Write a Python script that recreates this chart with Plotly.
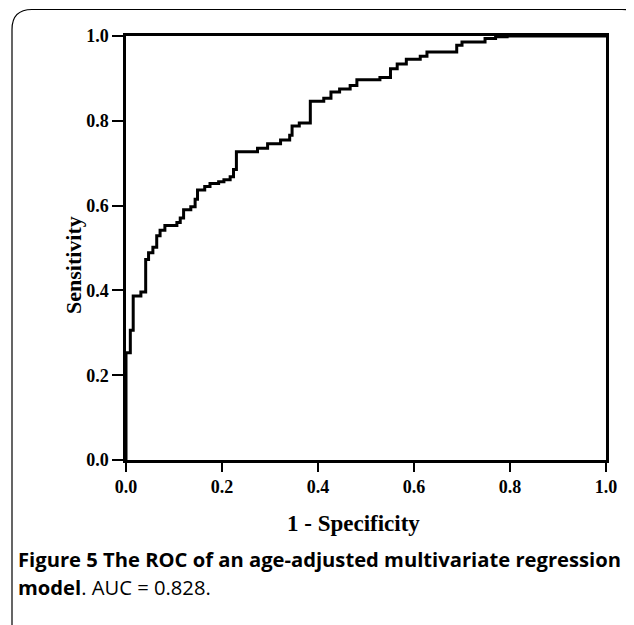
import plotly.graph_objects as go

# ROC curve vertices (1 - specificity, sensitivity)
fpr = [0.0, 0.0, 0.009, 0.015, 0.031, 0.041, 0.047, 0.056, 0.064, 0.071, 0.081,
       0.106, 0.113, 0.120, 0.135, 0.144, 0.149, 0.164, 0.175, 0.193, 0.204,
       0.217, 0.224, 0.230, 0.274, 0.295, 0.322, 0.341, 0.346, 0.361, 0.384,
       0.412, 0.427, 0.445, 0.467, 0.481, 0.529, 0.551, 0.565, 0.584, 0.613,
       0.627, 0.689, 0.700, 0.748, 0.770, 0.794, 1.0]
tpr = [0.0, 0.253, 0.306, 0.387, 0.396, 0.473, 0.489, 0.502, 0.529, 0.542, 0.553,
       0.560, 0.571, 0.590, 0.597, 0.615, 0.637, 0.645, 0.652, 0.656, 0.661,
       0.668, 0.685, 0.727, 0.735, 0.746, 0.755, 0.766, 0.788, 0.795, 0.846,
       0.853, 0.868, 0.875, 0.883, 0.897, 0.902, 0.923, 0.934, 0.945, 0.952,
       0.962, 0.978, 0.986, 0.994, 0.998, 1.0, 1.0]

tick_vals = [0.0, 0.2, 0.4, 0.6, 0.8, 1.0]
tick_text = ["0.0", "0.2", "0.4", "0.6", "0.8", "1.0"]

x_title = "1 - Specificity"
y_title = "Sensitivity"
caption_line1 = "<b>Figure 5 The ROC of an age-adjusted multivariate regression</b>"
caption_line2 = "<b>model</b>. AUC = 0.828."

W, H = 634, 625
L, R, T, B = 118, 36, 28, 173
pw, ph = W - L - R, H - T - B


def px_x(p):
    return (p - L) / pw


def px_y(p):
    return (H - B - p) / ph


fig = go.Figure()
fig.add_trace(go.Scatter(
    x=fpr, y=tpr, mode="lines", line=dict(color="black", width=3, shape="hv"),
    hoverinfo="skip", showlegend=False,
))

serif = "Liberation Serif"
axis_common = dict(
    range=[0, 1], tickvals=tick_vals, ticktext=tick_text, ticks="outside",
    tickwidth=2, tickcolor="black", showline=True, linewidth=2.5,
    linecolor="black", mirror=True, showgrid=False, zeroline=False,
    tickfont=dict(family=serif, size=18, color="black", weight="bold"),
    fixedrange=True,
)
fig.update_xaxes(**axis_common, ticklen=9)
fig.update_yaxes(**axis_common, ticklen=11)

title_font = dict(family=serif, size=23, color="black", weight="bold")
fig.add_annotation(text=x_title, xref="paper", yref="paper",
                   x=px_x(345), y=px_y(515), xanchor="center", yanchor="middle",
                   showarrow=False, font=title_font)
fig.add_annotation(text=y_title, xref="paper", yref="paper", textangle=-90,
                   x=px_x(65), y=px_y(257), xanchor="center", yanchor="middle",
                   showarrow=False, font=dict(family=serif, size=22, color="black",
                                              weight="bold"))

# rounded border around the figure panel
x0, x1 = px_x(4), px_x(634)
y0, y1 = px_y(640), px_y(1.5)
rx, ry = 20 / pw, 20 / ph
path = (f"M {x0},{y0} L {x0},{y1 - ry} Q {x0},{y1} {x0 + rx},{y1} "
        f"L {x1 - rx},{y1} Q {x1},{y1} {x1},{y1 - ry} L {x1},{y0}")
fig.add_shape(type="path", path=path, xref="paper", yref="paper",
              line=dict(color="black", width=1.2))

cap_font = dict(family="Open Sans", size=20.2, color="black")
fig.add_annotation(text=caption_line1, xref="paper", yref="paper",
                   x=px_x(8), y=px_y(551), xanchor="left", yanchor="middle",
                   showarrow=False, font=cap_font)
fig.add_annotation(text=caption_line2, xref="paper", yref="paper",
                   x=px_x(8), y=px_y(579), xanchor="left", yanchor="middle",
                   showarrow=False, font=cap_font)

fig.update_layout(
    width=W, height=H, margin=dict(l=L, r=R, t=T, b=B),
    paper_bgcolor="white", plot_bgcolor="white",
)
fig.write_html("out.html")
